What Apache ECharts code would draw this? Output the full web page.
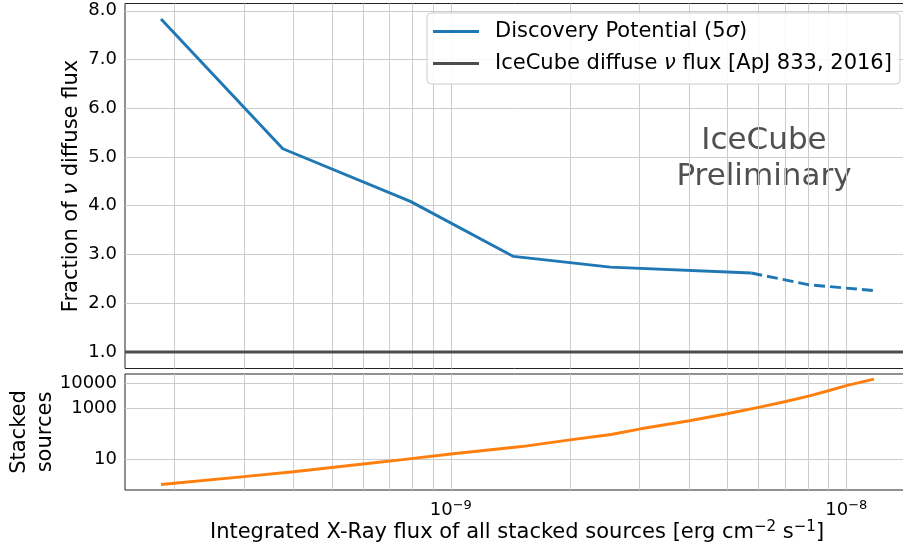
<!DOCTYPE html>
<html><head><meta charset="utf-8">
<script src="https://cdn.jsdelivr.net/npm/echarts@6/dist/echarts.min.js"></script>
<style>html,body{margin:0;padding:0;background:#fff}#c{width:903px;height:550px}</style>
</head><body><div id="c"></div>
<script>
// Discovery potential (solid part)
const dpX = [1.85e-10, 3.76e-10, 7.9e-10, 1.44e-9, 2.53e-9, 5.75e-9];
const dpY = [7.83, 5.17, 4.09, 2.96, 2.74, 2.62];
// Discovery potential (dashed part)
const dpDashX = [5.75e-9, 8.0e-9, 1.17e-8];
const dpDashY = [2.62, 2.38, 2.26];
// IceCube diffuse flux level
const diffuseLevel = 1.0;
// Stacked sources
const srcX = [1.85e-10, 3.0e-10, 4.0e-10, 6.0e-10, 7.55e-10, 1.0e-9, 1.51e-9, 2.0e-9, 2.54e-9, 3.02e-9, 4.01e-9, 4.99e-9, 6.04e-9, 6.98e-9, 8.07e-9, 9.05e-9, 1.0e-8, 1.174e-8];
const srcY = [1, 2.05, 3.2, 6.5, 9.6, 16, 31.5, 58, 94, 158, 327, 618, 1135, 1840, 3160, 5120, 8000, 14400];
// Axis ticks
const xRange = [1.5e-10, 1.5e-8];
const xLabelTicks = [1e-9, 1e-8];
const xGridTicks = [2e-10, 3e-10, 4e-10, 5e-10, 6e-10, 7e-10, 8e-10, 9e-10, 1e-9, 2e-9, 3e-9, 4e-9, 5e-9, 6e-9, 7e-9, 8e-9, 9e-9, 1e-8];
const yTopTicks = [1, 2, 3, 4, 5, 6, 7, 8];
const yBotTicks = [10, 1000, 10000];

const FONT = 'DejaVu Sans';
const zip = (a, b) => a.map((v, i) => [v, b[i]]);
const gridLine = {show: true, lineStyle: {color: '#cccccc', width: 1}};
const fmtPow = v => '10{sup|' + String(Math.round(Math.log10(v))).replace('-', '−') + '}';

const chart = echarts.init(document.getElementById('c'));
chart.setOption({
  animation: false,
  backgroundColor: '#fff',
  textStyle: {fontFamily: FONT},
  grid: [
    {left: 125, top: 3.5, width: 791, height: 365, show: true, borderColor: '#222', borderWidth: 1, containLabel: false, outerBoundsMode: 'none'},
    {left: 125, top: 374, width: 791, height: 116, show: true, borderColor: '#222', borderWidth: 1, containLabel: false, outerBoundsMode: 'none'}
  ],
  xAxis: [
    {type: 'log', gridIndex: 0, min: xRange[0], max: xRange[1], axisLine: {show: false},
     axisTick: {show: false, customValues: xGridTicks}, axisLabel: {show: false, customValues: xLabelTicks},
     splitLine: gridLine, minorSplitLine: {show: false}},
    {type: 'log', gridIndex: 1, min: xRange[0], max: xRange[1], axisLine: {show: false},
     axisTick: {show: false, customValues: xGridTicks},
     axisLabel: {customValues: xLabelTicks, formatter: fmtPow, color: '#000', fontSize: 18, fontFamily: FONT, margin: 9, lineHeight: 22,
       rich: {sup: {fontSize: 13, fontFamily: FONT, color: '#000', verticalAlign: 'top', lineHeight: 13}}},
     splitLine: gridLine}
  ],
  yAxis: [
    {type: 'value', gridIndex: 0, min: 0.66, max: 8.15, axisLine: {show: false},
     axisTick: {show: false, customValues: yTopTicks},
     axisLabel: {customValues: yTopTicks, formatter: v => v.toFixed(1), color: '#000', fontSize: 18, fontFamily: FONT, margin: 8},
     splitLine: gridLine},
    {type: 'log', gridIndex: 1, min: 0.61, max: 22900, axisLine: {show: false},
     axisTick: {show: false, customValues: yBotTicks},
     axisLabel: {customValues: yBotTicks, formatter: v => String(Math.round(v)), color: '#000', fontSize: 18, fontFamily: FONT, margin: 8},
     splitLine: gridLine}
  ],
  legend: {
    orient: 'vertical', left: 427, top: 13,
    data: ['Discovery Potential (5σ)', 'IceCube diffuse ν flux [ApJ 833, 2016]'],
    formatter: n => n.replace('σ', '{i|σ}').replace('ν', '{i|ν}'),
    icon: 'rect', itemWidth: 46, itemHeight: 3, itemGap: 7,
    padding: [6, 8, 8, 6],
    backgroundColor: 'rgba(255,255,255,0.85)', borderColor: '#cccccc', borderWidth: 1, borderRadius: 4,
    textStyle: {fontSize: 21, fontFamily: FONT, color: '#000', lineHeight: 25, padding: [0, 0, 0, 11],
      rich: {i: {fontSize: 21, fontFamily: FONT, fontStyle: 'italic', color: '#000', lineHeight: 25}}},
    selectedMode: false
  },
  series: [
    {type: 'line', name: 'Discovery Potential (5σ)', xAxisIndex: 0, yAxisIndex: 0, data: zip(dpX, dpY),
     symbol: 'none', color: '#1f77b4', lineStyle: {width: 2.9, color: '#1f77b4'}, z: 3},
    {type: 'line', name: 'Discovery Potential (5σ)', xAxisIndex: 0, yAxisIndex: 0, data: zip(dpDashX, dpDashY),
     symbol: 'none', color: '#1f77b4', lineStyle: {width: 2.9, color: '#1f77b4', type: [11, 5]}, z: 3},
    {type: 'line', name: 'IceCube diffuse ν flux [ApJ 833, 2016]', xAxisIndex: 0, yAxisIndex: 0,
     data: [[xRange[0], diffuseLevel], [xRange[1], diffuseLevel]],
     symbol: 'none', color: '#4d4d4d', lineStyle: {width: 3, color: '#4d4d4d'}, z: 3},
    {type: 'line', name: 'sources', xAxisIndex: 1, yAxisIndex: 1, data: zip(srcX, srcY),
     symbol: 'none', color: '#ff7f0e', lineStyle: {width: 2.9, color: '#ff7f0e'}, z: 3}
  ],
  graphic: [
    {type: 'text', x: 72, y: 186, rotation: Math.PI / 2,
     style: {text: 'Fraction of {i|ν} diffuse flux', fontSize: 21, fontFamily: FONT, fill: '#000', align: 'center', verticalAlign: 'middle',
       rich: {i: {fontSize: 21, fontFamily: FONT, fontStyle: 'italic', fill: '#000'}}}},
    {type: 'text', x: 33, y: 432, rotation: Math.PI / 2,
     style: {text: 'Stacked\nsources', fontSize: 21, fontFamily: FONT, fill: '#000', align: 'center', verticalAlign: 'middle', lineHeight: 26}},
    {type: 'text', x: 517, y: 533,
     style: {text: 'Integrated X-Ray flux of all stacked sources [erg cm{sup|−2} s{sup|−1}]', fontSize: 21, fontFamily: FONT, fill: '#000',
       align: 'center', verticalAlign: 'middle', lineHeight: 26,
       rich: {sup: {fontSize: 15, fontFamily: FONT, fill: '#000', verticalAlign: 'top', lineHeight: 15}}}},
    {type: 'text', x: 764, y: 159,
     style: {text: 'IceCube\nPreliminary', fontSize: 31, fontFamily: FONT, fill: '#505050', align: 'center', verticalAlign: 'middle', lineHeight: 36}}
  ]
});
</script></body></html>
